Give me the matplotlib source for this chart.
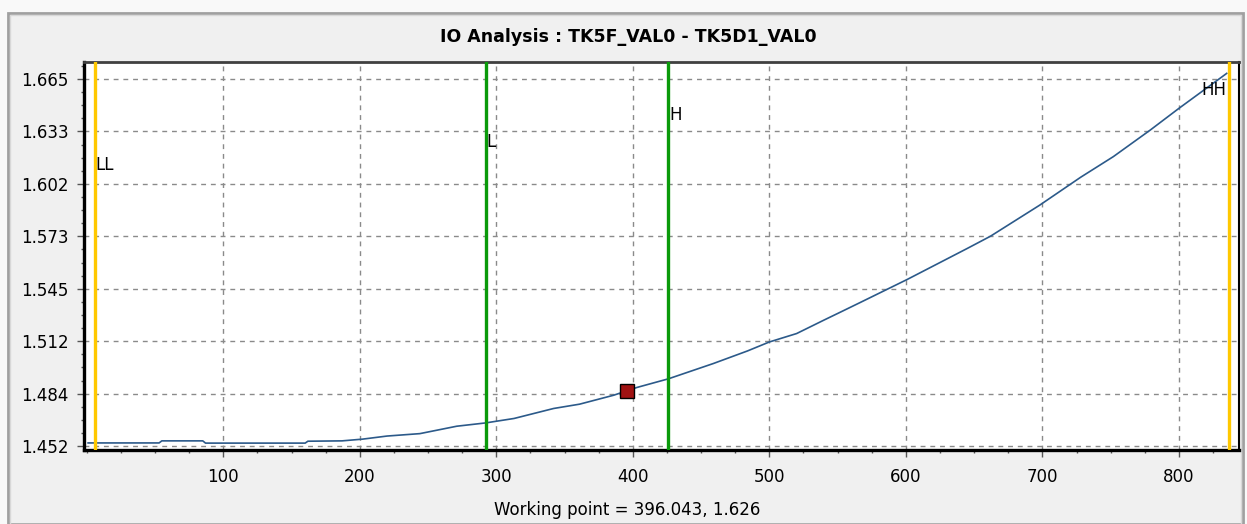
import numpy as np
import matplotlib
matplotlib.use("Agg")
import matplotlib.pyplot as plt
from matplotlib.patches import Rectangle
from matplotlib.ticker import MultipleLocator, FixedLocator

# transfer curve TK5F_VAL0 -> TK5D1_VAL0
curve_x = [1, 53, 55, 85, 87, 160, 162, 187, 202, 220, 244, 271, 292, 313, 342,
           361, 386, 403, 426, 459, 484, 500, 520, 540, 552, 566, 601, 645, 662,
           698, 728, 742, 752, 779, 800, 835]
curve_y = [1.4538, 1.4538, 1.4550, 1.4550, 1.4537, 1.4537, 1.4548, 1.4550, 1.4560,
           1.4578, 1.4592, 1.4635, 1.4654, 1.4680, 1.4738, 1.4763, 1.4815, 1.4860,
           1.4910, 1.4999, 1.5072, 1.5124, 1.5173, 1.5251, 1.5297, 1.5351, 1.5487,
           1.5667, 1.5738, 1.5918, 1.6080, 1.6150, 1.6200, 1.6354, 1.6480, 1.6683]

# alarm limits
limit_names = ["LL", "L", "H", "HH"]
limit_x = [6.0, 292.5, 426.0, 836.5]
limit_colors = ["#ffc800", "#0a9a0a", "#0a9a0a", "#ffc800"]
limit_label_y = [1.615, 1.6286, 1.6441, 1.6586]

work_x = 396.043
work_label = "Working point = 396.043, 1.626"

ytick_labels = ["1.452", "1.484", "1.512", "1.545", "1.573", "1.602", "1.633", "1.665"]
xticks = [100, 200, 300, 400, 500, 600, 700, 800]

W, H = 1247, 524
fig = plt.figure(figsize=(W / 100, H / 100), dpi=100, facecolor="#f9f9f9")

# panel frame
fig.patches.append(Rectangle((8 / W, 0), 1235 / W, (H - 13) / H, transform=fig.transFigure,
                             facecolor="#f0f0f0", edgecolor="#a0a0a0", lw=2.0, zorder=-2))
fig.patches.append(Rectangle((10 / W, 0), 1231 / W, (H - 15) / H, transform=fig.transFigure,
                             facecolor="none", edgecolor="#d8d8d8", lw=1.0, zorder=-1))

ax = fig.add_axes([84 / W, 1 - 450 / H, (1239 - 84) / W, (450 - 62) / H])
ax.set_zorder(1)
ax.set_facecolor("white")

ax.set_xlim(-2, 844)
ax.set_ylim(1.4497, 1.6749)

yticks = np.linspace(1.452, 1.665, len(ytick_labels))
ax.set_yticks(yticks)
ax.set_yticklabels(ytick_labels)
step = yticks[1] - yticks[0]
ax.yaxis.set_minor_locator(FixedLocator(np.arange(yticks[0], 1.6749, step / 4)))
ax.set_xticks(xticks)
ax.xaxis.set_minor_locator(MultipleLocator(25))

ax.grid(True, which="major", color="#8a8a8a", ls=(0, (3.5, 3.5)), lw=1.0)
ax.set_axisbelow(True)

ax.tick_params(which="major", length=5, width=1, color="#555555", labelsize=12, pad=6)
ax.tick_params(which="minor", length=2.5, width=1, color="#555555")
ax.tick_params(axis="x", pad=8)

for side in ["left", "bottom"]:
    ax.spines[side].set_linewidth(2.4)
    ax.spines[side].set_color("black")
ax.spines["top"].set_linewidth(2.0)
ax.spines["top"].set_color("#404040")
ax.spines["right"].set_linewidth(1.5)
ax.spines["right"].set_color("black")

for name, xv, col, ly in zip(limit_names, limit_x, limit_colors, limit_label_y):
    ax.axvline(xv, color=col, lw=2.4, zorder=3)
    if name == "HH":
        ax.annotate(name, (xv, ly), xytext=(-2, 0), textcoords="offset points",
                    ha="right", va="center", fontsize=12, zorder=4)
    else:
        ax.annotate(name, (xv, ly), xytext=(0.5, 0), textcoords="offset points",
                    ha="left", va="center", fontsize=12, zorder=4)

ax.plot(curve_x, curve_y, color="#2c5a8a", lw=1.2, zorder=2)

work_y = np.interp(work_x, curve_x, curve_y)
ax.plot([work_x], [work_y], marker="s", ms=10, mfc="#a01212", mec="black", mew=1.0, zorder=5)

fig.text(628 / W, 1 - 37 / H, "IO Analysis : TK5F_VAL0 - TK5D1_VAL0",
         ha="center", va="center", fontsize=12.5, fontweight="bold")
fig.text(627.5 / W, 1 - 510 / H, work_label, ha="center", va="center", fontsize=12)

fig.savefig("out.png", dpi=100, facecolor=fig.get_facecolor())
